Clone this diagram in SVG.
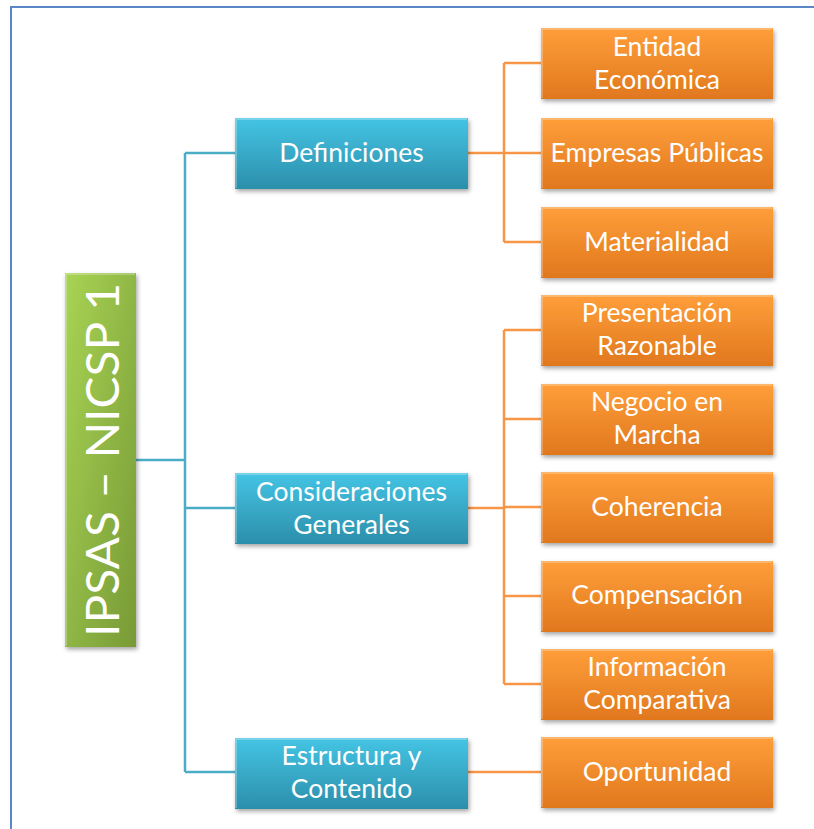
<svg xmlns="http://www.w3.org/2000/svg" width="814" height="829" viewBox="0 0 814 829">
<defs>
<linearGradient id="gBlue" x1="0" y1="0" x2="0" y2="1">
<stop offset="0" stop-color="#45C4E4"/><stop offset="1" stop-color="#2B8FAB"/>
</linearGradient>
<linearGradient id="gOrange" x1="0" y1="0" x2="0" y2="1">
<stop offset="0" stop-color="#FF9E3A"/><stop offset="1" stop-color="#E0781E"/>
</linearGradient>
<linearGradient id="gGreen" x1="0" y1="0" x2="1" y2="1">
<stop offset="0" stop-color="#A8D454"/><stop offset="1" stop-color="#789A36"/>
</linearGradient>
<filter id="sh" x="-10%" y="-10%" width="125%" height="130%">
<feDropShadow dx="1.5" dy="2.5" stdDeviation="2" flood-color="#000" flood-opacity="0.35"/>
</filter>
</defs>
<style>
.blue{fill:url(#gBlue);filter:url(#sh)}
.orange{fill:url(#gOrange);filter:url(#sh)}
.green{fill:url(#gGreen);filter:url(#sh)}
.hl{fill:none;stroke:#fff;stroke-opacity:0.35;stroke-width:1.5}
.t{font-family:Lato,"Open Sans",sans-serif;font-size:26.5px;fill:#fff;text-anchor:middle;dominant-baseline:central}
.cb{fill:none;stroke:#4BACC6;stroke-width:2.5}
.co{fill:none;stroke:#F79646;stroke-width:2.5}
</style>
<rect x="11" y="7" width="820" height="840" fill="#fff" stroke="#5B87C6" stroke-width="2"/>
<g id="connectors">
<path class="cb" d="M136 460H185M185 153V772M185 153H235M185 508H235M185 772H235"/>
<path class="co" d="M468 153H504M504 63V242M504 63H541M504 153H541M504 242H541"/>
<path class="co" d="M468 508H504M504 330V684M504 330H541M504 419H541M504 507H541M504 596H541M504 684H541"/>
<path class="co" d="M468 772H541"/>
</g>
<g id="root">
<rect class="green" x="65" y="273" width="71" height="374"/>
<path class="hl" d="M66 646V274H135"/>
<text class="t" transform="translate(101,460) rotate(-90)" style="font-size:46px" textLength="354" lengthAdjust="spacingAndGlyphs">IPSAS – NICSP 1</text>
</g>
<g id="definiciones">
<rect class="blue" x="235" y="118" width="233" height="71"/>
<path class="hl" d="M236 188V119H467"/>
<text class="t" x="351.5" y="152">Definiciones</text>
</g>
<g id="consideraciones">
<rect class="blue" x="235" y="473" width="233" height="71"/>
<path class="hl" d="M236 543V474H467"/>
<text class="t" x="351.5" y="491">Consideraciones</text>
<text class="t" x="351.5" y="524">Generales</text>
</g>
<g id="estructura">
<rect class="blue" x="235" y="738" width="233" height="71"/>
<path class="hl" d="M236 808V739H467"/>
<text class="t" x="351.5" y="755">Estructura y</text>
<text class="t" x="351.5" y="788">Contenido</text>
</g>
<g id="entidad">
<rect class="orange" x="541" y="28" width="232" height="71"/>
<path class="hl" d="M542 98V29H772"/>
<text class="t" x="657" y="46">Entidad</text>
<text class="t" x="657" y="79">Económica</text>
</g>
<g id="empresas">
<rect class="orange" x="541" y="118" width="232" height="71"/>
<path class="hl" d="M542 188V119H772"/>
<text class="t" x="657" y="152">Empresas Públicas</text>
</g>
<g id="materialidad">
<rect class="orange" x="541" y="207" width="232" height="71"/>
<path class="hl" d="M542 277V208H772"/>
<text class="t" x="657" y="241">Materialidad</text>
</g>
<g id="presentacion">
<rect class="orange" x="541" y="295" width="232" height="71"/>
<path class="hl" d="M542 365V296H772"/>
<text class="t" x="657" y="312">Presentación</text>
<text class="t" x="657" y="345">Razonable</text>
</g>
<g id="negocio">
<rect class="orange" x="541" y="384" width="232" height="71"/>
<path class="hl" d="M542 454V385H772"/>
<text class="t" x="657" y="401">Negocio en</text>
<text class="t" x="657" y="434">Marcha</text>
</g>
<g id="coherencia">
<rect class="orange" x="541" y="472" width="232" height="71"/>
<path class="hl" d="M542 542V473H772"/>
<text class="t" x="657" y="506">Coherencia</text>
</g>
<g id="compensacion">
<rect class="orange" x="541" y="561" width="232" height="71"/>
<path class="hl" d="M542 631V562H772"/>
<text class="t" x="657" y="594">Compensación</text>
</g>
<g id="informacion">
<rect class="orange" x="541" y="649" width="232" height="71"/>
<path class="hl" d="M542 719V650H772"/>
<text class="t" x="657" y="666">Información</text>
<text class="t" x="657" y="699">Comparativa</text>
</g>
<g id="oportunidad">
<rect class="orange" x="541" y="737" width="232" height="71"/>
<path class="hl" d="M542 807V738H772"/>
<text class="t" x="657" y="771">Oportunidad</text>
</g>
</svg>
